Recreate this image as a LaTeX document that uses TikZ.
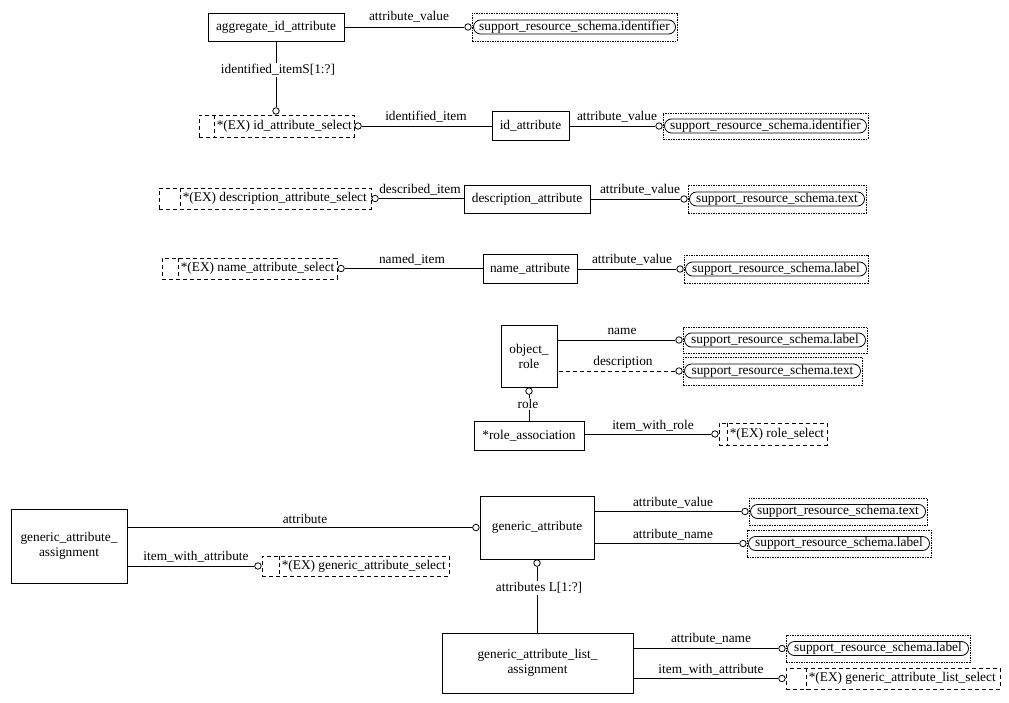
\documentclass[tikz,border=0pt]{standalone}
\usepackage{fontspec}
\setmainfont{Liberation Serif}
\newcommand{\dg}{\fontsize{13.33}{15}\selectfont}
\tikzset{
 ent/.style={draw, line width=0.9pt, inner sep=0pt, align=center, font=\dg},
 tbox/.style={draw, line width=0.7pt, dash pattern=on 1.5pt off 1pt, inner sep=0pt},
 tin/.style={draw, line width=0.8pt, rounded corners=7pt, inner sep=0pt, minimum height=14pt, font=\dg},
 sbox/.style={draw, line width=0.8pt, dash pattern=on 4pt off 3pt, inner sep=0pt},
 sdiv/.style={line width=0.8pt, dash pattern=on 4pt off 3pt},
 stxt/.style={font=\dg, anchor=west, inner sep=0pt},
 ring/.style={draw, circle, line width=0.8pt, minimum size=6.5pt, inner sep=0pt, fill=white},
 lbl/.style={font=\dg, inner sep=1pt},
 conn/.style={line width=0.9pt},
}
\begin{document}
\begin{tikzpicture}[x=1pt,y=-1pt]
\useasboundingbox (0,0) rectangle (1009,703);
% entities
\node[ent, minimum width=136pt, minimum height=28pt] (e1) at (276,27) {aggregate\_id\_attribute};
\node[ent, minimum width=77pt, minimum height=29pt] (e2) at (530.5,125.5) {id\_attribute};
\node[ent, minimum width=126pt, minimum height=28pt] (e3) at (527,199) {description\_attribute};
\node[ent, minimum width=94pt, minimum height=29pt] (e4) at (530,268.5) {name\_attribute};
\node[ent, minimum width=56pt, minimum height=62pt] (e5) at (529,356) {object\_\\role};
\node[ent, minimum width=110pt, minimum height=29pt] (e6) at (529,435.5) {*role\_association};
\node[ent, minimum width=116pt, minimum height=74pt] (e7) at (69,546) {generic\_attribute\_\\assignment};
\node[ent, minimum width=114pt, minimum height=63pt] (e8) at (537,527.5) {generic\_attribute};
\node[ent, minimum width=191pt, minimum height=60pt] (e9) at (537.5,663) {generic\_attribute\_list\_\\assignment};
% type boxes
\node[tbox, minimum width=205pt, minimum height=28pt] (t1) at (574.5,27) {};
\node[tin, minimum width=202pt] (t1i) at (t1.center) {support\_resource\_schema.identifier};
\node[tbox, minimum width=205pt, minimum height=26pt] (t2) at (765.5,126) {};
\node[tin, minimum width=202pt] (t2i) at (t2.center) {support\_resource\_schema.identifier};
\node[tbox, minimum width=178pt, minimum height=28pt] (t3) at (777,199) {};
\node[tin, minimum width=175pt] (t3i) at (t3.center) {support\_resource\_schema.text};
\node[tbox, minimum width=184pt, minimum height=28pt] (t4) at (776,269) {};
\node[tin, minimum width=181pt] (t4i) at (t4.center) {support\_resource\_schema.label};
\node[tbox, minimum width=184pt, minimum height=26pt] (t5) at (775,340) {};
\node[tin, minimum width=181pt] (t5i) at (t5.center) {support\_resource\_schema.label};
\node[tbox, minimum width=179pt, minimum height=28pt] (t6) at (772.5,371) {};
\node[tin, minimum width=176pt] (t6i) at (t6.center) {support\_resource\_schema.text};
\node[tbox, minimum width=178pt, minimum height=27pt] (t7) at (838,511.5) {};
\node[tin, minimum width=175pt] (t7i) at (t7.center) {support\_resource\_schema.text};
\node[tbox, minimum width=184pt, minimum height=27pt] (t8) at (839,543.5) {};
\node[tin, minimum width=181pt] (t8i) at (t8.center) {support\_resource\_schema.label};
\node[tbox, minimum width=184pt, minimum height=27pt] (t9) at (878,648.5) {};
\node[tin, minimum width=181pt] (t9i) at (t9.center) {support\_resource\_schema.label};
% select boxes
\node[sbox, minimum width=155pt, minimum height=22pt] (s1) at (276.5,126) {};
\draw[sdiv] ([xshift=16pt]s1.north west) -- ([xshift=16pt]s1.south west);
\node[stxt] (s1t) at ([xshift=18pt]s1.west) {*(EX) id\_attribute\_select};
\node[sbox, minimum width=212pt, minimum height=21pt] (s2) at (265,198.5) {};
\draw[sdiv] ([xshift=22pt]s2.north west) -- ([xshift=22pt]s2.south west);
\node[stxt] (s2t) at ([xshift=24pt]s2.west) {*(EX) description\_attribute\_select};
\node[sbox, minimum width=175pt, minimum height=21pt] (s3) at (249.5,268.5) {};
\draw[sdiv] ([xshift=17pt]s3.north west) -- ([xshift=17pt]s3.south west);
\node[stxt] (s3t) at ([xshift=19pt]s3.west) {*(EX) name\_attribute\_select};
\node[sbox, minimum width=108pt, minimum height=22pt] (s4) at (773,434) {};
\draw[sdiv] ([xshift=9pt]s4.north west) -- ([xshift=9pt]s4.south west);
\node[stxt] (s4t) at ([xshift=11pt]s4.west) {*(EX) role\_select};
\node[sbox, minimum width=187pt, minimum height=20pt] (s5) at (355.5,566) {};
\draw[sdiv] ([xshift=18pt]s5.north west) -- ([xshift=18pt]s5.south west);
\node[stxt] (s5t) at ([xshift=20pt]s5.west) {*(EX) generic\_attribute\_select};
\node[sbox, minimum width=214pt, minimum height=21pt] (s6) at (893,678.5) {};
\draw[sdiv] ([xshift=21pt]s6.north west) -- ([xshift=21pt]s6.south west);
\node[stxt] (s6t) at ([xshift=23pt]s6.west) {*(EX) generic\_attribute\_list\_select};
% connectors
\node[ring, anchor=east] (r1) at (t1.west) {};
\draw[conn] (e1.east) -- (r1.west);
\node[lbl] (l1) at (409,17) {attribute\_value};
\node[ring, anchor=south] (r2) at (s1.north -| e1.south) {};
\draw[conn] (e1.south) -- (r2.north);
\node[lbl, fill=white] (l2) at (278,70) {identified\_itemS[1:?]};
\node[ring, anchor=west] (r3) at (s1.east) {};
\draw[conn] (r3.east) -- (r3.east -| e2.west);
\node[lbl] (l3) at (426,117) {identified\_item};
\node[ring, anchor=east] (r4) at (t2.west) {};
\draw[conn] (r4.west) -- (r4.west -| e2.east);
\node[lbl] (l4) at (617,117) {attribute\_value};
\node[ring, anchor=west] (r5) at (s2.east) {};
\draw[conn] (r5.east) -- (r5.east -| e3.west);
\node[lbl] (l5) at (420,190) {described\_item};
\node[ring, anchor=east] (r6) at (t3.west) {};
\draw[conn] (r6.west) -- (r6.west -| e3.east);
\node[lbl] (l6) at (640,190) {attribute\_value};
\node[ring, anchor=west] (r7) at (s3.east) {};
\draw[conn] (r7.east) -- (r7.east -| e4.west);
\node[lbl] (l7) at (412,260) {named\_item};
\node[ring, anchor=east] (r8) at (t4.west) {};
\draw[conn] (r8.west) -- (r8.west -| e4.east);
\node[lbl] (l8) at (632,260) {attribute\_value};
\node[ring, anchor=east] (r9) at (t5.west) {};
\draw[conn] (r9.west) -- (r9.west -| e5.east);
\node[lbl] (l9) at (622,331) {name};
\node[ring, anchor=east] (r10) at (t6.west) {};
\draw[conn, dash pattern=on 4pt off 3pt] (r10.west) -- (r10.west -| e5.east);
\node[lbl] (l10) at (623,362) {description};
\node[ring, anchor=north] (r11) at (e5.south) {};
\draw[conn] (r11.south) -- (r11.south |- e6.north);
\node[lbl, fill=white] (l11) at (528,404) {role};
\node[ring, anchor=east] (r12) at (s4.west) {};
\draw[conn] (r12.west) -- (r12.west -| e6.east);
\node[lbl] (l12) at (653,426) {item\_with\_role};
\node[ring, anchor=east] (r13) at (e8.west) {};
\draw[conn] (r13.west) -- (r13.west -| e7.east);
\node[lbl] (l13) at (305,519) {attribute};
\node[ring, anchor=east] (r14) at (s5.west) {};
\draw[conn] (r14.west) -- (r14.west -| e7.east);
\node[lbl] (l14) at (196,557) {item\_with\_attribute};
\node[ring, anchor=east] (r15) at (t7.west) {};
\draw[conn] (r15.west) -- (r15.west -| e8.east);
\node[lbl] (l15) at (673,503) {attribute\_value};
\node[ring, anchor=east] (r16) at (t8.west) {};
\draw[conn] (r16.west) -- (r16.west -| e8.east);
\node[lbl] (l16) at (673,535) {attribute\_name};
\node[ring, anchor=north] (r17) at (e8.south) {};
\draw[conn] (r17.south) -- (r17.south |- e9.north);
\node[lbl, fill=white] (l17) at (539,588) {attributes L[1:?]};
\node[ring, anchor=east] (r18) at (t9.west) {};
\draw[conn] (r18.west) -- (r18.west -| e9.east);
\node[lbl] (l18) at (711,639) {attribute\_name};
\node[ring, anchor=east] (r19) at (s6.west) {};
\draw[conn] (r19.west) -- (r19.west -| e9.east);
\node[lbl] (l19) at (711,670) {item\_with\_attribute};
\end{tikzpicture}
\end{document}
